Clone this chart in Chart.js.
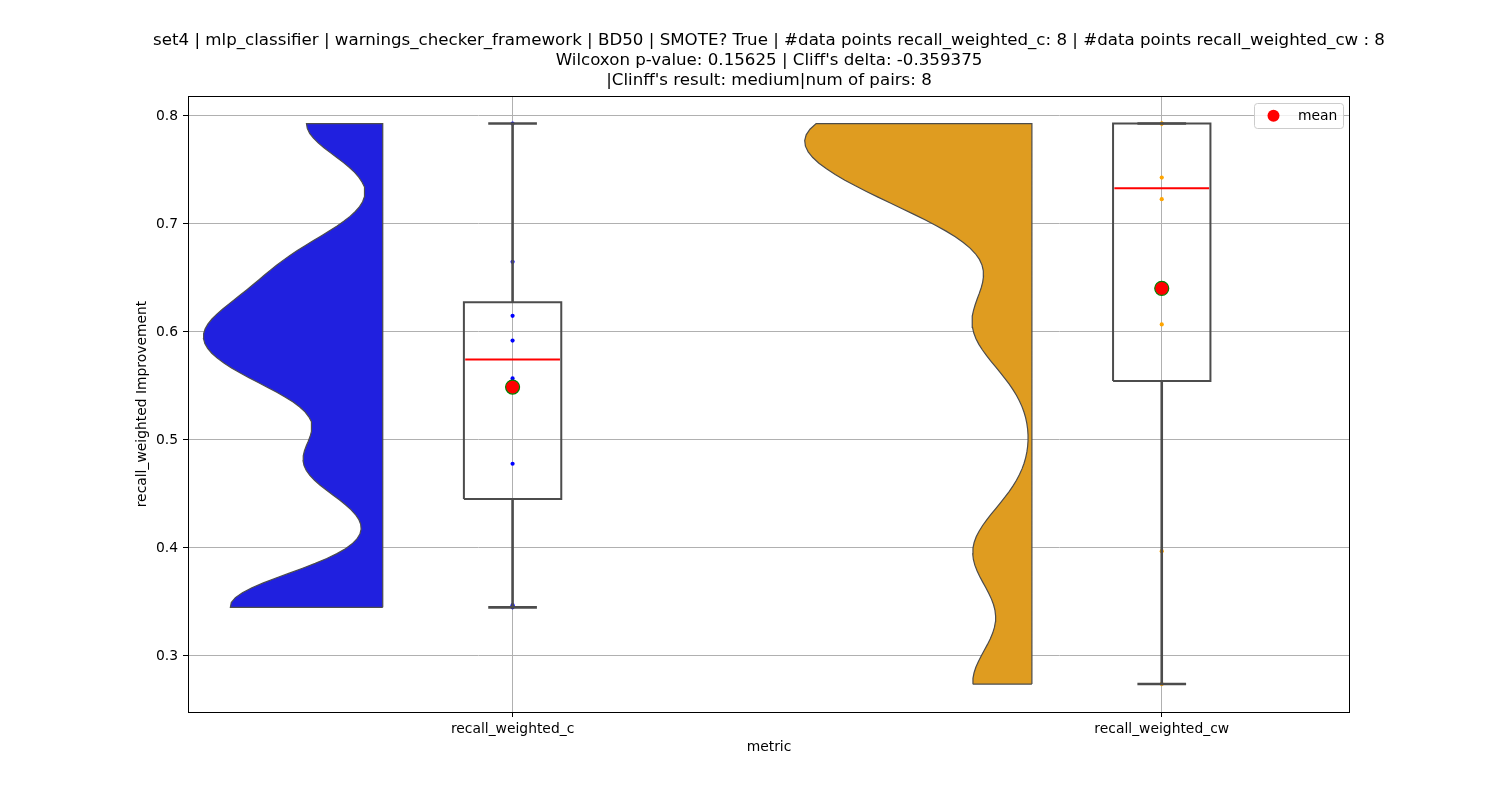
<!DOCTYPE html>
<html>
<head>
<meta charset="utf-8">
<script src="https://cdn.jsdelivr.net/npm/chart.js@4.4.1/dist/chart.umd.min.js"></script>
<style>
html,body{margin:0;padding:0;background:#ffffff;}
canvas{display:block;}
</style>
</head>
<body>
<canvas id="chart" width="1500" height="800"></canvas>
<script>
// ---------------- data ----------------
const categories = ['recall_weighted_c', 'recall_weighted_cw'];
const valuesC  = [0.793, 0.665, 0.615, 0.592, 0.557, 0.478, 0.347, 0.345];
const valuesCW = [0.793, 0.793, 0.793, 0.743, 0.723, 0.607, 0.397, 0.274];
const yTicks = [0.3, 0.4, 0.5, 0.6, 0.7, 0.8];
const titleLines = [
  'set4 | mlp_classifier | warnings_checker_framework | BD50 | SMOTE? True | #data points recall_weighted_c: 8 | #data points recall_weighted_cw : 8',
  "Wilcoxon p-value: 0.15625 | Cliff's delta: -0.359375",
  "|Clinff's result: medium|num of pairs: 8"
];
const xAxisLabel = 'metric';
const yAxisLabel = 'recall_weighted Improvement';
const legendLabel = 'mean';

// ---------------- styles / layout ----------------
const violinFill = ['#2020df', '#df9c20'];
const pointColor = ['#0000ff', '#ffa500'];
const edgeGray = '#4c4c4c';
const FONT = "'DejaVu Sans', 'Liberation Sans', sans-serif";
const violinOffset = 0.2;     // flat side sits this far left of the category
const violinHalfWidth = 0.35; // width_viol / 2
const boxWidth = 0.15;
const capWidth = 0.075;
const bwFactor = 0.2;
const gridSize = 100;

// ---------------- statistics ----------------
function quantile(s, q) {
  const pos = (s.length - 1) * q, lo = Math.floor(pos), hi = Math.ceil(pos);
  return s[lo] + (s[hi] - s[lo]) * (pos - lo);
}
function stats(vals) {
  const s = [...vals].sort((a, b) => a - b);
  const q1 = quantile(s, 0.25), med = quantile(s, 0.5), q3 = quantile(s, 0.75);
  const iqr = q3 - q1;
  const lo = s.find(v => v >= q1 - 1.5 * iqr);
  const hi = [...s].reverse().find(v => v <= q3 + 1.5 * iqr);
  const mean = s.reduce((a, b) => a + b, 0) / s.length;
  return {q1, med, q3, lo, hi, mean, min: s[0], max: s[s.length - 1]};
}
function kde(vals) {
  const n = vals.length;
  const m = vals.reduce((a, b) => a + b, 0) / n;
  const sd = Math.sqrt(vals.reduce((a, v) => a + (v - m) * (v - m), 0) / (n - 1));
  const h = bwFactor * sd;
  const lo = Math.min(...vals), hi = Math.max(...vals);
  const grid = [], dens = [];
  for (let i = 0; i < gridSize; i++) {
    const g = lo + (hi - lo) * i / (gridSize - 1);
    let d = 0;
    for (const v of vals) { const z = (g - v) / h; d += Math.exp(-0.5 * z * z); }
    grid.push(g);
    dens.push(d / (n * h * Math.sqrt(2 * Math.PI)));
  }
  return {grid, dens, lo, hi};
}

const allValues = [valuesC, valuesCW];
const allStats = allValues.map(stats);
const allKde = allValues.map(kde);
const maxDensity = Math.max(...allKde.map(k => Math.max(...k.dens)));

// ---------------- datasets ----------------
const datasets = [];
function lineDs(data, color, width, order, extra) {
  return Object.assign({
    type: 'line', data, borderColor: color, borderWidth: width, pointRadius: 0,
    pointHoverRadius: 0, fill: false, tension: 0, order, spanGaps: false
  }, extra || {});
}

allValues.forEach((vals, i) => {
  const pos = i;
  const st = allStats[i];
  const k = allKde[i];
  const flat = pos - violinOffset;
  // half violin (closed outline)
  const vpts = [{x: flat, y: k.lo}];
  k.grid.forEach((g, j) => vpts.push({x: flat - violinHalfWidth * k.dens[j] / maxDensity, y: g}));
  vpts.push({x: flat, y: k.hi});
  vpts.push({x: flat, y: k.lo});
  datasets.push(lineDs(vpts, edgeGray, 1.2, 5, {fill: 'shape', backgroundColor: violinFill[i], label: categories[i] + ' violin'}));

  // strip points
  datasets.push({
    type: 'scatter', label: categories[i] + ' points',
    data: vals.map(v => ({x: pos, y: v})),
    pointRadius: 2.1, pointBorderWidth: 0, backgroundColor: pointColor[i],
    pointBackgroundColor: pointColor[i], order: 4
  });

  // box
  const bl = pos - boxWidth / 2, br = pos + boxWidth / 2;
  datasets.push(lineDs([
    {x: bl, y: st.q1}, {x: br, y: st.q1}, {x: br, y: st.q3}, {x: bl, y: st.q3}, {x: bl, y: st.q1}
  ], edgeGray, 2, 3, {label: categories[i] + ' box', borderJoinStyle: 'miter'}));
  // whiskers
  datasets.push(lineDs([{x: pos, y: st.q1}, {x: pos, y: st.lo}], edgeGray, 2.6, 3, {label: 'whisker lo'}));
  datasets.push(lineDs([{x: pos, y: st.q3}, {x: pos, y: st.hi}], edgeGray, 2.6, 3, {label: 'whisker hi'}));
  // caps
  datasets.push(lineDs([{x: pos - capWidth / 2, y: st.lo}, {x: pos + capWidth / 2, y: st.lo}], edgeGray, 2.6, 3, {label: 'cap lo'}));
  datasets.push(lineDs([{x: pos - capWidth / 2, y: st.hi}, {x: pos + capWidth / 2, y: st.hi}], edgeGray, 2.6, 3, {label: 'cap hi'}));
  // median
  datasets.push(lineDs([{x: bl + 0.002, y: st.med}, {x: br - 0.002, y: st.med}], '#ff0000', 2, 2, {label: 'median'}));
});

// mean markers
datasets.push({
  type: 'scatter', label: legendLabel,
  data: allStats.map((st, i) => ({x: i, y: st.mean})),
  pointRadius: 7, pointBorderWidth: 1.2, pointBackgroundColor: '#ff0000',
  pointBorderColor: '#008000', backgroundColor: '#ff0000', borderColor: '#008000', order: 0
});

// ---------------- plugins ----------------
// let the title (centred over the plot area) use the full canvas width so long lines are not squeezed
const titleWidthPlugin = {
  id: 'titleWidth',
  afterLayout(chart) {
    const t = chart.titleBlock;
    if (!t) return;
    const a = chart.chartArea;
    const c = (a.left + a.right) / 2;
    const half = Math.min(c, chart.width);
    t.left = c - half;
    t.right = c + half;
    t.width = t.right - t.left;
  }
};

const framePlugin = {
  id: 'frameAndLegend',
  afterDraw(chart) {
    const {ctx, chartArea: a} = chart;
    ctx.save();
    // spines
    ctx.strokeStyle = '#000000';
    ctx.lineWidth = 1;
    ctx.strokeRect(Math.round(a.left) + 0.5, Math.round(a.top) + 0.5,
                   Math.round(a.right - a.left) - 1, Math.round(a.bottom - a.top));
    // legend
    const w = 89, h = 25;
    const x = a.right - 7 - w, y = a.top + 7;
    ctx.beginPath();
    if (ctx.roundRect) ctx.roundRect(x + 0.5, y + 0.5, w, h, 3); else ctx.rect(x + 0.5, y + 0.5, w, h);
    ctx.fillStyle = 'rgba(255,255,255,0.8)';
    ctx.fill();
    ctx.strokeStyle = '#cccccc';
    ctx.lineWidth = 1;
    ctx.stroke();
    ctx.beginPath();
    ctx.arc(x + 19.5, y + 12.7, 6, 0, Math.PI * 2);
    ctx.fillStyle = '#ff0000';
    ctx.fill();
    ctx.fillStyle = '#000000';
    ctx.font = '13.89px ' + FONT;
    ctx.textBaseline = 'middle';
    ctx.textAlign = 'left';
    const meanDs = chart.data.datasets.find(d => d.label === legendLabel);
    ctx.fillText(meanDs.label, x + 44, y + 13);
    ctx.restore();
  }
};

// ---------------- chart ----------------
const tickFont = {family: FONT, size: 13.89, lineHeight: 1.2};
new Chart(document.getElementById('chart'), {
  type: 'scatter',
  data: {datasets},
  options: {
    responsive: false,
    animation: false,
    devicePixelRatio: 1,
    layout: {padding: {left: 0, right: 150, top: 0, bottom: 0}},
    plugins: {
      legend: {display: false},
      tooltip: {enabled: false},
      title: {
        display: true, text: titleLines, fullSize: false, color: '#000000',
        font: {family: FONT, size: 16.67, weight: 'normal', lineHeight: 1.2},
        padding: {top: 31, bottom: 5}
      }
    },
    scales: {
      x: {
        type: 'linear', min: -0.5, max: 1.29,
        afterBuildTicks: s => { s.ticks = categories.map((c, i) => ({value: i})); },
        afterFit: s => { s.height = 88; },
        ticks: {
          callback: v => categories[Math.round(v)], color: '#000000', font: tickFont,
          padding: 4, autoSkip: false, maxRotation: 0
        },
        grid: {color: '#b0b0b0', lineWidth: 1, tickColor: '#000000', tickLength: 5, drawTicks: true},
        border: {display: false},
        title: {display: true, text: xAxisLabel, color: '#000000', font: tickFont, padding: {top: 0, bottom: 44.7}}
      },
      y: {
        type: 'linear', min: 0.2481, max: 0.8185,
        afterBuildTicks: s => { s.ticks = yTicks.map(v => ({value: v})); },
        afterFit: s => { s.width = 188; },
        ticks: {callback: v => v.toFixed(1), color: '#000000', font: tickFont, padding: 5},
        grid: {color: '#b0b0b0', lineWidth: 1, tickColor: '#000000', tickLength: 5, drawTicks: true},
        border: {display: false},
        title: {display: true, text: yAxisLabel, color: '#000000', font: tickFont, padding: {top: 133.7, bottom: 0}}
      }
    }
  },
  plugins: [titleWidthPlugin, framePlugin]
});
</script>
</body>
</html>
